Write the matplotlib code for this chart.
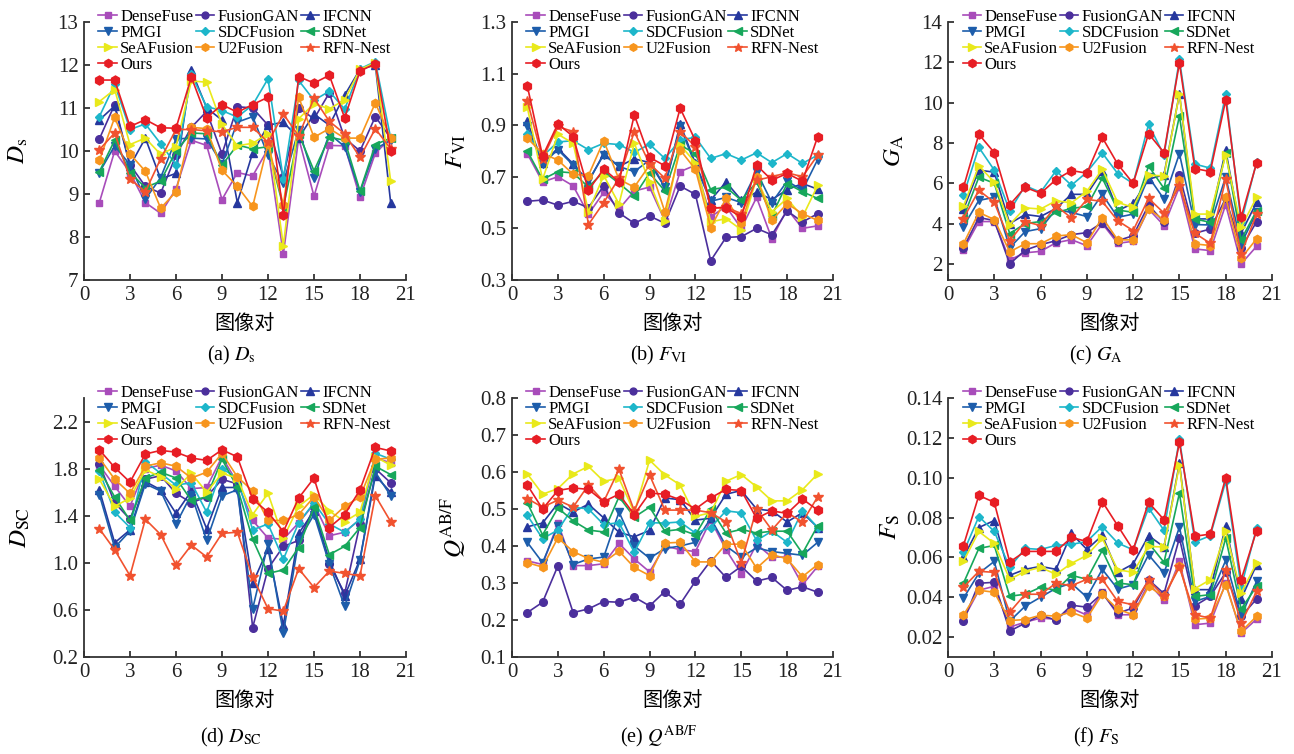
import matplotlib
matplotlib.use("Agg")
import matplotlib.pyplot as plt
import numpy as np

plt.rcParams['font.family'] = ['Liberation Serif', 'Noto Sans CJK SC', 'DejaVu Sans']
plt.rcParams['mathtext.fontset'] = 'stix'

methods = ['DenseFuse', 'FusionGAN', 'IFCNN', 'PMGI', 'SDCFusion', 'SDNet',
           'SeAFusion', 'U2Fusion', 'RFN-Nest', 'Ours']
image_pairs = list(range(1, 21))
xticks = [0, 3, 6, 9, 12, 15, 18, 21]

# ---- (a) D_s ----
DS_DenseFuse = [8.8, 10.0, 9.5, 8.8, 8.55, 9.12, 10.25, 10.13, 8.87, 9.5, 9.42, 10.05, 7.6, 10.3, 8.95, 10.13, 10.12, 8.92, 9.95, 10.3]
DS_FusionGAN = [10.28, 11.08, 9.68, 9.18, 9.02, 9.9, 10.55, 10.92, 9.93, 11.03, 11.0, 10.6, 9.4, 11.0, 10.75, 11.35, 10.3, 10.0, 10.8, 10.3]
DS_IFCNN = [10.72, 11.05, 9.65, 10.3, 9.35, 9.48, 11.88, 11.0, 10.72, 8.8, 9.96, 10.6, 10.67, 10.3, 10.86, 10.6, 11.3, 11.9, 12.0, 8.8]
DS_PMGI = [9.5, 10.12, 9.68, 8.88, 9.38, 10.28, 10.3, 10.28, 9.7, 10.67, 10.8, 9.9, 9.25, 10.5, 9.37, 10.4, 10.1, 9.05, 10.05, 10.25]
DS_SDCFusion = [10.8, 11.55, 10.5, 10.63, 10.17, 9.68, 11.78, 11.03, 10.94, 10.79, 11.07, 11.68, 9.35, 11.64, 11.18, 11.39, 10.97, 11.91, 12.08, 10.3]
DS_SDNet = [9.52, 10.25, 9.5, 9.15, 9.3, 10.0, 10.42, 10.4, 9.67, 10.14, 10.05, 10.1, 8.69, 10.4, 9.54, 10.32, 10.25, 9.07, 10.15, 10.3]
DS_SeAFusion = [11.15, 11.43, 10.15, 10.3, 9.92, 10.1, 11.63, 11.6, 10.62, 10.12, 10.18, 10.4, 7.8, 10.75, 11.1, 10.98, 11.19, 11.9, 12.05, 9.3]
DS_U2Fusion = [9.78, 10.78, 9.93, 9.53, 8.67, 9.05, 10.55, 10.52, 9.55, 9.18, 8.71, 10.17, 8.75, 11.25, 10.32, 10.52, 10.3, 10.3, 11.12, 10.3]
DS_RFNNest = [10.03, 10.42, 9.35, 9.05, 9.82, 10.5, 10.5, 10.47, 10.45, 10.55, 10.55, 10.2, 10.86, 10.35, 11.23, 10.69, 10.4, 9.85, 10.52, 10.05]
DS_Ours = [11.65, 11.65, 10.57, 10.73, 10.54, 10.53, 11.72, 10.77, 11.08, 10.9, 11.08, 11.25, 8.52, 11.73, 11.58, 11.76, 10.77, 11.86, 12.03, 10.0]

# ---- (b) F_VI ----
FVI_DenseFuse = [0.79, 0.68, 0.70, 0.665, 0.555, 0.64, 0.575, 0.645, 0.66, 0.53, 0.72, 0.745, 0.545, 0.585, 0.50, 0.62, 0.46, 0.575, 0.50, 0.51]
FVI_FusionGAN = [0.605, 0.61, 0.59, 0.605, 0.58, 0.665, 0.56, 0.52, 0.548, 0.52, 0.664, 0.632, 0.375, 0.465, 0.468, 0.50, 0.475, 0.568, 0.525, 0.557]
FVI_IFCNN = [0.915, 0.755, 0.81, 0.75, 0.68, 0.79, 0.74, 0.77, 0.755, 0.66, 0.905, 0.752, 0.61, 0.68, 0.61, 0.64, 0.612, 0.65, 0.674, 0.652]
FVI_PMGI = [0.895, 0.75, 0.805, 0.745, 0.685, 0.785, 0.74, 0.72, 0.765, 0.66, 0.895, 0.745, 0.605, 0.62, 0.60, 0.72, 0.60, 0.683, 0.648, 0.767]
FVI_SDCFusion = [0.865, 0.78, 0.835, 0.84, 0.805, 0.83, 0.825, 0.795, 0.826, 0.771, 0.843, 0.853, 0.771, 0.79, 0.765, 0.793, 0.755, 0.79, 0.752, 0.784]
FVI_SDNet = [0.80, 0.69, 0.72, 0.715, 0.66, 0.72, 0.675, 0.625, 0.715, 0.645, 0.823, 0.79, 0.65, 0.66, 0.609, 0.68, 0.55, 0.674, 0.642, 0.616]
FVI_SeAFusion = [0.97, 0.69, 0.865, 0.83, 0.565, 0.705, 0.595, 0.83, 0.68, 0.53, 0.823, 0.755, 0.525, 0.538, 0.495, 0.694, 0.564, 0.616, 0.544, 0.667]
FVI_U2Fusion = [0.85, 0.79, 0.765, 0.71, 0.705, 0.84, 0.69, 0.66, 0.745, 0.564, 0.804, 0.729, 0.503, 0.616, 0.521, 0.70, 0.531, 0.596, 0.557, 0.531]
FVI_RFNNest = [0.995, 0.77, 0.895, 0.875, 0.515, 0.60, 0.695, 0.875, 0.75, 0.695, 0.875, 0.817, 0.577, 0.583, 0.557, 0.687, 0.70, 0.716, 0.70, 0.784]
FVI_Ours = [1.053, 0.78, 0.905, 0.856, 0.648, 0.73, 0.68, 0.94, 0.775, 0.743, 0.966, 0.84, 0.58, 0.58, 0.544, 0.745, 0.687, 0.713, 0.683, 0.856]

# ---- (c) G_A ----
GA_DenseFuse = [2.7, 4.1, 4.1, 2.2, 2.55, 2.62, 3.05, 3.2, 2.9, 4.0, 3.02, 3.12, 4.72, 3.9, 5.82, 2.74, 2.66, 4.94, 2.0, 2.87]
GA_FusionGAN = [2.8, 4.3, 4.15, 2.0, 2.68, 2.95, 3.15, 3.45, 3.55, 4.05, 3.15, 3.4, 4.92, 4.06, 6.4, 3.52, 3.73, 5.25, 2.78, 4.09]
GA_IFCNN = [4.7, 6.65, 6.55, 4.0, 4.45, 4.35, 4.75, 5.45, 5.45, 6.6, 4.64, 5.0, 6.2, 6.42, 10.44, 4.23, 4.23, 7.64, 3.53, 5.05]
GA_PMGI = [3.85, 5.15, 5.3, 2.8, 3.6, 3.75, 4.7, 4.55, 4.35, 5.45, 4.31, 4.47, 6.32, 5.21, 7.47, 3.95, 3.93, 6.32, 2.99, 4.56]
GA_SDCFusion = [5.4, 7.78, 6.65, 4.63, 5.88, 5.55, 6.62, 5.9, 6.55, 7.5, 6.48, 5.99, 8.92, 7.39, 12.14, 6.95, 6.75, 10.41, 4.06, 7.05]
GA_SDNet = [4.3, 6.3, 6.0, 3.5, 4.0, 4.1, 4.55, 4.75, 4.85, 6.25, 4.67, 4.56, 6.86, 5.74, 9.34, 4.23, 4.06, 7.52, 3.2, 4.64]
GA_SeAFusion = [4.85, 6.87, 6.05, 3.95, 4.78, 4.72, 5.13, 5.03, 5.6, 6.7, 5.05, 4.8, 6.4, 6.37, 10.44, 4.47, 4.47, 7.4, 3.81, 5.3]
GA_U2Fusion = [3.0, 4.55, 4.2, 2.6, 3.0, 3.0, 3.38, 3.45, 3.05, 4.3, 3.19, 3.19, 4.72, 4.18, 6.15, 2.99, 2.91, 5.3, 2.28, 3.24]
GA_RFNNest = [4.25, 5.65, 5.05, 3.15, 4.1, 3.9, 4.88, 4.28, 5.2, 5.1, 4.14, 3.65, 5.25, 4.52, 5.87, 3.52, 3.02, 6.2, 2.5, 4.47]
GA_Ours = [5.79, 8.43, 7.52, 4.93, 5.8, 5.5, 6.18, 6.63, 6.5, 8.27, 6.95, 5.99, 8.46, 7.52, 11.97, 6.73, 6.58, 10.13, 4.31, 7.0]

# ---- (d) D_SC ----
DSC_DenseFuse = [1.83, 1.65, 1.48, 1.80, 1.83, 1.78, 1.63, 1.64, 1.90, 1.68, 1.36, 1.21, 1.20, 1.34, 1.50, 1.23, 1.26, 1.37, 1.89, 1.85]
DSC_FusionGAN = [1.84, 1.51, 1.37, 1.71, 1.74, 1.59, 1.51, 1.56, 1.71, 1.67, 0.45, 0.95, 1.14, 1.19, 1.47, 0.99, 0.74, 1.33, 1.80, 1.68]
DSC_IFCNN = [1.62, 1.17, 1.28, 1.69, 1.62, 1.42, 1.61, 1.29, 1.64, 1.64, 0.825, 1.12, 0.47, 1.25, 1.44, 1.02, 0.72, 1.03, 1.74, 1.60]
DSC_PMGI = [1.58, 1.13, 1.27, 1.67, 1.61, 1.33, 1.58, 1.19, 1.57, 1.62, 0.61, 1.16, 0.40, 1.19, 1.41, 0.99, 0.63, 1.02, 1.77, 1.57]
DSC_SDCFusion = [1.78, 1.43, 1.30, 1.86, 1.76, 1.66, 1.68, 1.43, 1.80, 1.72, 1.28, 1.33, 1.03, 1.34, 1.51, 1.33, 1.26, 1.37, 1.93, 1.88]
DSC_SDNet = [1.79, 1.56, 1.36, 1.72, 1.77, 1.72, 1.53, 1.56, 1.88, 1.64, 1.20, 0.91, 0.94, 1.13, 1.47, 1.07, 1.14, 1.30, 1.82, 1.75]
DSC_SeAFusion = [1.71, 1.48, 1.55, 1.79, 1.73, 1.63, 1.76, 1.60, 1.76, 1.72, 1.41, 1.59, 1.21, 1.48, 1.58, 1.44, 1.35, 1.43, 1.90, 1.83]
DSC_U2Fusion = [1.89, 1.71, 1.59, 1.82, 1.85, 1.82, 1.72, 1.77, 1.93, 1.73, 1.61, 1.36, 1.36, 1.41, 1.56, 1.36, 1.48, 1.56, 1.88, 1.89]
DSC_RFNNest = [1.29, 1.11, 0.89, 1.37, 1.24, 0.98, 1.15, 1.05, 1.25, 1.26, 0.88, 0.61, 0.59, 0.95, 0.79, 0.93, 0.91, 0.89, 1.57, 1.35]
DSC_Ours = [1.96, 1.81, 1.685, 1.924, 1.955, 1.94, 1.89, 1.87, 1.96, 1.90, 1.54, 1.43, 1.265, 1.55, 1.72, 1.30, 1.41, 1.62, 1.98, 1.95]

# ---- (e) Q^AB/F ----
Q_DenseFuse = [0.36, 0.35, 0.462, 0.347, 0.347, 0.352, 0.407, 0.365, 0.33, 0.40, 0.39, 0.385, 0.47, 0.39, 0.325, 0.405, 0.37, 0.37, 0.295, 0.345]
Q_FusionGAN = [0.22, 0.248, 0.346, 0.22, 0.23, 0.25, 0.248, 0.262, 0.238, 0.277, 0.243, 0.305, 0.36, 0.315, 0.345, 0.305, 0.315, 0.28, 0.29, 0.275]
Q_IFCNN = [0.452, 0.462, 0.515, 0.492, 0.513, 0.476, 0.437, 0.425, 0.442, 0.53, 0.525, 0.47, 0.475, 0.54, 0.55, 0.50, 0.495, 0.465, 0.49, 0.45]
Q_PMGI = [0.41, 0.355, 0.453, 0.35, 0.365, 0.37, 0.492, 0.40, 0.367, 0.393, 0.40, 0.41, 0.475, 0.40, 0.37, 0.395, 0.385, 0.38, 0.375, 0.41]
Q_SDCFusion = [0.483, 0.42, 0.443, 0.505, 0.50, 0.458, 0.463, 0.383, 0.463, 0.462, 0.465, 0.435, 0.45, 0.495, 0.49, 0.415, 0.44, 0.41, 0.495, 0.45]
Q_SDNet = [0.517, 0.43, 0.503, 0.468, 0.443, 0.438, 0.533, 0.478, 0.505, 0.44, 0.445, 0.43, 0.50, 0.435, 0.445, 0.435, 0.44, 0.44, 0.38, 0.455]
Q_SeAFusion = [0.595, 0.54, 0.555, 0.595, 0.615, 0.575, 0.583, 0.49, 0.632, 0.592, 0.565, 0.48, 0.49, 0.575, 0.593, 0.56, 0.522, 0.522, 0.552, 0.595]
Q_U2Fusion = [0.355, 0.343, 0.422, 0.385, 0.366, 0.356, 0.386, 0.342, 0.32, 0.408, 0.41, 0.357, 0.357, 0.405, 0.405, 0.34, 0.377, 0.365, 0.317, 0.35]
Q_RFNNest = [0.528, 0.505, 0.524, 0.505, 0.565, 0.52, 0.607, 0.495, 0.592, 0.497, 0.497, 0.497, 0.49, 0.465, 0.355, 0.50, 0.443, 0.49, 0.465, 0.533]
Q_Ours = [0.565, 0.50, 0.55, 0.557, 0.553, 0.52, 0.54, 0.485, 0.543, 0.54, 0.525, 0.50, 0.53, 0.553, 0.55, 0.475, 0.495, 0.488, 0.527, 0.497]

# ---- (f) F_S ----
FS_DenseFuse = [0.029, 0.0435, 0.0455, 0.025, 0.0275, 0.0295, 0.029, 0.0345, 0.031, 0.0425, 0.0312, 0.0312, 0.0471, 0.0384, 0.058, 0.0262, 0.027, 0.0471, 0.022, 0.029]
FS_FusionGAN = [0.028, 0.047, 0.0475, 0.023, 0.027, 0.031, 0.0285, 0.036, 0.035, 0.042, 0.032, 0.0346, 0.0488, 0.0418, 0.0697, 0.0357, 0.0404, 0.0525, 0.0304, 0.0391]
FS_IFCNN = [0.060, 0.075, 0.0785, 0.051, 0.054, 0.0555, 0.054, 0.072, 0.064, 0.071, 0.0525, 0.0567, 0.0709, 0.0652, 0.1074, 0.0438, 0.0438, 0.0759, 0.0391, 0.0563]
FS_PMGI = [0.0395, 0.052, 0.058, 0.028, 0.0355, 0.040, 0.0445, 0.047, 0.040, 0.054, 0.0441, 0.0463, 0.0613, 0.0521, 0.0752, 0.0379, 0.0404, 0.0585, 0.0307, 0.0479]
FS_SDCFusion = [0.0625, 0.0805, 0.073, 0.055, 0.0645, 0.064, 0.066, 0.0665, 0.068, 0.0755, 0.0672, 0.0638, 0.0848, 0.0736, 0.1194, 0.0677, 0.0709, 0.0982, 0.0451, 0.0747]
FS_SDNet = [0.047, 0.0645, 0.066, 0.0405, 0.0415, 0.045, 0.0435, 0.051, 0.049, 0.0635, 0.0471, 0.0463, 0.0672, 0.0575, 0.0923, 0.0404, 0.0413, 0.0697, 0.0341, 0.0454]
FS_SeAFusion = [0.058, 0.073, 0.067, 0.049, 0.053, 0.055, 0.0515, 0.057, 0.061, 0.0695, 0.0538, 0.0525, 0.0655, 0.0652, 0.1066, 0.0443, 0.0488, 0.0731, 0.0421, 0.0572]
FS_U2Fusion = [0.031, 0.0435, 0.0425, 0.0283, 0.0288, 0.031, 0.0305, 0.0325, 0.0295, 0.0415, 0.034, 0.0312, 0.0454, 0.0404, 0.0558, 0.029, 0.0295, 0.0463, 0.0228, 0.0304]
FS_RFNNest = [0.045, 0.053, 0.0525, 0.0325, 0.0415, 0.0415, 0.047, 0.0458, 0.049, 0.049, 0.0379, 0.0362, 0.0485, 0.0404, 0.0551, 0.0312, 0.0295, 0.0535, 0.027, 0.0429]
FS_Ours = [0.0659, 0.0911, 0.0876, 0.0577, 0.063, 0.063, 0.063, 0.070, 0.068, 0.088, 0.0759, 0.0638, 0.0876, 0.0789, 0.1177, 0.0706, 0.0717, 0.100, 0.0488, 0.0734]

colors = {'DenseFuse': '#a84cba', 'FusionGAN': '#4b2f9c', 'IFCNN': '#26389e',
          'PMGI': '#1d5dab', 'SDCFusion': '#1db6ca', 'SDNet': '#17a75b',
          'SeAFusion': '#e9e91b', 'U2Fusion': '#f7951d', 'RFN-Nest': '#f1522f',
          'Ours': '#e71d24'}
markers = {'DenseFuse': 's', 'FusionGAN': 'o', 'IFCNN': '^', 'PMGI': 'v',
           'SDCFusion': 'D', 'SDNet': '<', 'SeAFusion': '>', 'U2Fusion': 'h',
           'RFN-Nest': '*', 'Ours': 'h'}
msizes = {'DenseFuse': 5, 'FusionGAN': 5.5, 'IFCNN': 6, 'PMGI': 6,
          'SDCFusion': 4.5, 'SDNet': 6, 'SeAFusion': 6, 'U2Fusion': 6,
          'RFN-Nest': 7, 'Ours': 6.5}

panels = [
    dict(data=[DS_DenseFuse, DS_FusionGAN, DS_IFCNN, DS_PMGI, DS_SDCFusion, DS_SDNet, DS_SeAFusion, DS_U2Fusion, DS_RFNNest, DS_Ours],
         ylabel=r'$D_{\mathrm{s}}$', cap=r'(a) $D_{\mathrm{s}}$', ylim=(7, 13), yticks=[7, 8, 9, 10, 11, 12, 13], fmt='{:.0f}'),
    dict(data=[FVI_DenseFuse, FVI_FusionGAN, FVI_IFCNN, FVI_PMGI, FVI_SDCFusion, FVI_SDNet, FVI_SeAFusion, FVI_U2Fusion, FVI_RFNNest, FVI_Ours],
         ylabel=r'$F_{\mathrm{VI}}$', cap=r'(b) $F_{\mathrm{VI}}$', ylim=(0.3, 1.3), yticks=[0.3, 0.5, 0.7, 0.9, 1.1, 1.3], fmt='{:.1f}'),
    dict(data=[GA_DenseFuse, GA_FusionGAN, GA_IFCNN, GA_PMGI, GA_SDCFusion, GA_SDNet, GA_SeAFusion, GA_U2Fusion, GA_RFNNest, GA_Ours],
         ylabel=r'$G_{\mathrm{A}}$', cap=r'(c) $G_{\mathrm{A}}$', ylim=(1.2, 14), yticks=[2, 4, 6, 8, 10, 12, 14], fmt='{:.0f}'),
    dict(data=[DSC_DenseFuse, DSC_FusionGAN, DSC_IFCNN, DSC_PMGI, DSC_SDCFusion, DSC_SDNet, DSC_SeAFusion, DSC_U2Fusion, DSC_RFNNest, DSC_Ours],
         ylabel=r'$D_{\mathrm{SC}}$', cap=r'(d) $D_{\mathrm{SC}}$', ylim=(0.2, 2.4), yticks=[0.2, 0.6, 1.0, 1.4, 1.8, 2.2], fmt='{:.1f}'),
    dict(data=[Q_DenseFuse, Q_FusionGAN, Q_IFCNN, Q_PMGI, Q_SDCFusion, Q_SDNet, Q_SeAFusion, Q_U2Fusion, Q_RFNNest, Q_Ours],
         ylabel=r'$Q^{\mathrm{AB/F}}$', cap=r'(e) $Q^{\mathrm{AB/F}}$', ylim=(0.1, 0.8), yticks=[0.1, 0.2, 0.3, 0.4, 0.5, 0.6, 0.7, 0.8], fmt='{:.1f}'),
    dict(data=[FS_DenseFuse, FS_FusionGAN, FS_IFCNN, FS_PMGI, FS_SDCFusion, FS_SDNet, FS_SeAFusion, FS_U2Fusion, FS_RFNNest, FS_Ours],
         ylabel=r'$F_{\mathrm{S}}$', cap=r'(f) $F_{\mathrm{S}}$', ylim=(0.01, 0.14), yticks=[0.02, 0.04, 0.06, 0.08, 0.10, 0.12, 0.14], fmt='{:.2f}'),
]

W, H = 1294, 754
fig = plt.figure(figsize=(W / 100, H / 100), dpi=100)

lefts = [84, 512, 948]
widths = [322, 321, 324]
rows = [(22, 280), (398, 657)]
ylabel_x = [30, 468, 906, 32, 468, 902]

legend_order = ['DenseFuse', 'PMGI', 'SeAFusion', 'Ours', 'FusionGAN', 'SDCFusion',
                'U2Fusion', 'IFCNN', 'SDNet', 'RFN-Nest']

for i, p in enumerate(panels):
    r, c = divmod(i, 3)
    top, bot = rows[r]
    ax = fig.add_axes([lefts[c] / W, 1 - bot / H, widths[c] / W, (bot - top) / H])
    handles = {}
    for m, vals in zip(methods, p['data']):
        ln, = ax.plot(image_pairs, vals, color=colors[m], marker=markers[m],
                      markersize=msizes[m], linewidth=1.2, label=m,
                      markeredgecolor=colors[m], clip_on=False)
        handles[m] = ln
    ax.set_xlim(0, 21)
    ax.set_ylim(*p['ylim'])
    ax.set_xticks(xticks)
    ax.set_xticklabels([str(t) for t in xticks])
    ax.set_yticks(p['yticks'])
    ax.set_yticklabels([p['fmt'].format(t) for t in p['yticks']])
    for s in ['top', 'right']:
        ax.spines[s].set_visible(False)
    for s in ['left', 'bottom']:
        ax.spines[s].set_linewidth(1.3)
        ax.spines[s].set_color('#333333')
    ax.tick_params(direction='in', length=4, width=1.2, labelsize=15,
                   colors='#222222', pad=4)
    ax.set_xlabel('图像对', family=['Noto Sans CJK SC'], fontsize=14.5, labelpad=6)
    ax.set_ylabel(p['ylabel'], fontsize=18)
    ax.yaxis.set_label_coords((ylabel_x[i] - lefts[c]) / widths[c], 0.5)
    ax.legend([handles[m] for m in legend_order], legend_order, ncol=3,
              loc='upper left', bbox_to_anchor=(0.045, 1.05), frameon=False,
              fontsize=12, handlelength=1.1, handletextpad=0.2,
              columnspacing=0.1, labelspacing=0.0, borderaxespad=0.0,
              borderpad=0.0, markerscale=0.9)
    cx = (lefts[c] + widths[c] / 2 - 14) / W
    cy = 1 - (355 if r == 0 else 737) / H
    fig.text(cx, cy, p['cap'], ha='center', va='center', fontsize=14.5)

fig.savefig('out.png', dpi=100)
